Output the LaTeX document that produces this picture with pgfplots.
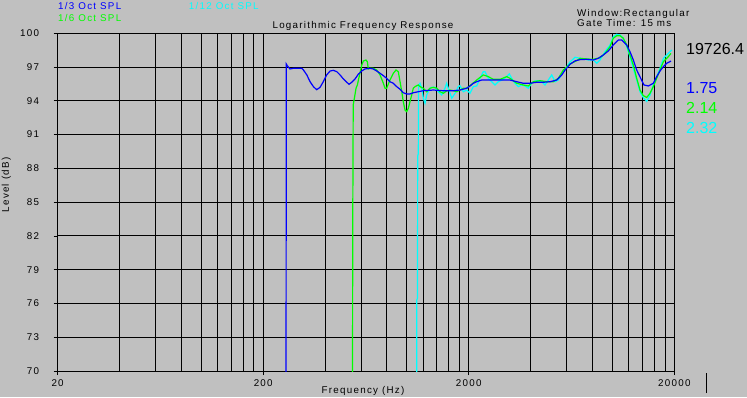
\documentclass[border=0pt]{standalone}
\usepackage{fontspec}
\usepackage{pgfplots}
\usepackage{pgfplotstable}
\pgfplotsset{compat=1.18}
\definecolor{bg}{HTML}{C0C0C0}
\definecolor{cblue}{HTML}{0000FF}
\definecolor{cgreen}{HTML}{00FF00}
\definecolor{ccyan}{HTML}{00FFFF}
\newfontfamily\uifont[LetterSpace=13]{Liberation Sans}
\newfontfamily\numfont{Liberation Sans}
\newcommand\ui{\uifont\fontsize{9.8}{11}\selectfont}
\newcommand\bignum{\numfont\fontsize{16}{18}\selectfont}

\pgfplotstableread{
f L
258 60
259 97.27
262 97.12
270 96.83
280 96.89
308 96.89
313 96.77
326 96.30
338 95.70
351 95.26
364 94.99
378 95.20
392 95.70
407 96.30
423 96.65
439 96.71
456 96.59
473 96.30
491 95.94
510 95.65
523 95.47
539 95.65
559 95.94
580 96.36
603 96.65
625 96.83
661 96.89
686 96.83
713 96.65
740 96.45
768 96.24
797 96.00
827 95.70
859 95.56
892 95.26
926 95.03
960 94.72
998 94.61
1035 94.61
1074 94.72
1136 94.81
1202 94.90
1344 94.96
1503 94.90
1681 94.90
1812 94.96
1954 95.12
2027 95.32
2104 95.56
2185 95.70
2311 95.85
2536 95.85
2838 95.85
3173 95.85
3420 95.70
3683 95.56
3970 95.56
4280 95.65
4607 95.65
4966 95.70
5353 95.85
5662 96.30
5876 96.74
6213 97.25
6570 97.55
6949 97.66
7490 97.69
8065 97.63
8528 97.78
9020 98.07
9538 98.43
10088 98.96
10668 99.40
11084 99.40
11722 98.96
12162 98.37
12620 97.63
13110 96.74
13712 96.00
14228 95.41
14930 95.32
15792 95.56
16404 96.15
17022 96.65
17662 97.03
18348 97.34
19038 97.48
19254 97.54
}\third

\pgfplotstableread{
f L
543 60
545 82.4
548 93.63
566 95.14
574 95.41
591 96.47
603 97.18
614 97.54
632 97.63
642 97.48
649 96.83
661 96.89
686 96.89
713 96.74
740 96.30
763 95.70
783 95.12
797 95.12
827 95.85
859 96.45
885 96.74
908 96.59
926 95.70
944 94.81
960 93.93
979 93.19
998 93.04
1016 93.34
1035 93.93
1055 94.52
1074 95.12
1095 95.26
1136 95.41
1158 95.26
1202 95.12
1248 94.81
1295 95.12
1344 95.20
1396 95.12
1449 94.81
1503 94.67
1561 94.88
1620 94.96
1681 94.90
1747 94.81
1812 94.96
1881 95.12
1954 95.12
2027 95.35
2185 95.85
2352 96.30
2488 96.15
2632 95.91
2838 95.91
3058 96.15
3173 96.00
3420 95.56
3683 95.41
3894 95.32
4118 95.70
4440 95.79
4786 95.70
5152 95.70
5450 96.00
5763 96.74
6213 97.27
6698 97.57
6949 97.78
7490 97.72
8065 97.69
8692 97.83
9194 98.22
9724 98.81
10088 99.56
10480 99.79
10876 99.79
11286 99.56
11722 98.96
12162 98.07
12620 97.18
13110 96.00
13606 94.96
14120 94.46
14670 94.30
15218 94.67
15792 95.26
16404 96.00
17022 96.74
17678 97.48
18678 97.92
19254 98.22
}\sixth

\pgfplotstableread{
f L
1115 60
1117 76.3
1126 76.5
1128 89.1
1136 89.3
1140 95.41
1158 95.56
1180 95.12
1202 94.23
1225 93.78
1248 94.52
1295 95.12
1320 95.20
1370 95.20
1421 94.81
1476 94.52
1532 95.12
1561 95.56
1590 95.12
1652 94.23
1714 94.67
1778 95.26
1812 95.35
1881 94.81
1954 94.96
2027 94.67
2104 95.26
2185 95.32
2268 96.00
2352 96.59
2398 96.59
2488 96.00
2586 95.70
2682 95.41
2784 95.70
2944 95.91
3058 96.15
3148 96.39
3234 96.00
3356 95.56
3482 95.26
3616 95.41
3752 95.32
3894 95.12
4046 95.56
4198 95.76
4356 95.79
4526 95.70
4696 95.41
4872 95.85
5062 96.30
5252 95.70
5450 95.85
5763 96.59
6213 97.45
6570 97.87
6949 97.78
7626 97.63
8065 97.63
8378 97.34
8692 97.63
9194 98.37
9724 98.96
10088 99.70
10480 99.91
10876 99.85
11286 99.56
11722 98.81
12162 97.92
12620 96.89
13110 95.85
13606 94.81
14120 94.28
14670 93.95
15218 94.50
15792 95.41
16404 96.15
17022 96.89
17678 97.78
19038 98.37
19406 98.52
}\twelfth

\begin{document}
\begin{tikzpicture}[x=1pt,y=1pt]
\path[use as bounding box, fill=bg] (0,0) rectangle (747,397);
\begin{axis}[
  at={(57.6pt,26pt)}, anchor=south west, scale only axis,
  width=616.8pt, height=337.7pt,
  xmode=log, xmin=20, xmax=20000, ymin=70, ymax=100,
  xtick={20,200,2000,20000}, xticklabels={20,200,2000,20000},
  minor xtick={40,60,80,100,120,140,160,180,400,600,800,1000,1200,1400,1600,1800,4000,6000,8000,10000,12000,14000,16000,18000},
  ytick={70,73,76,79,82,85,88,91,94,97,100},
  yticklabels={70,73,76,79,82,85,88,91,94,97,100},
  grid=both,
  major grid style={black, line width=1pt},
  minor grid style={black, line width=1pt},
  axis line style={black, line width=1pt},
  tick align=outside, major tick length=4pt, minor tick length=0pt,
  tick style={black, line width=0.8pt},
  tick pos=left,
  tick label style={font=\ui, text=black},
  yticklabel style={xshift=-11pt},
  xticklabel style={yshift=-1pt},
  clip=true,
]
\addplot[ccyan, line width=1.2pt, no marks] table[x=f,y=L] {\twelfth};
\addplot[cgreen, line width=1.2pt, no marks] table[x=f,y=L] {\sixth};
\addplot[cblue, line width=1.2pt, no marks] table[x=f,y=L] {\third};
\end{axis}
\node[anchor=west, inner sep=0, text=cblue, font=\ui] at (58,391) {1/3 Oct SPL};
\node[anchor=west, inner sep=0, text=cgreen, font=\ui] at (58,379.5) {1/6 Oct SPL};
\node[anchor=west, inner sep=0, text=ccyan, font=\ui] at (188.7,391) {1/12 Oct SPL};
\node[anchor=base, inner sep=0, font=\ui] at (363,368.3) {Logarithmic Frequency Response};
\node[anchor=base west, inner sep=0, font=\ui] at (577,380.3) {Window:Rectangular};
\node[anchor=base west, inner sep=0, font=\ui] at (577,370.3) {Gate Time: 15 ms};
\node[anchor=base west, inner sep=0, font=\bignum] at (686,342.7) {19726.4};
\node[anchor=base west, inner sep=0, font=\bignum, text=cblue] at (686,303) {1.75};
\node[anchor=base west, inner sep=0, font=\bignum, text=cgreen] at (686,283) {2.14};
\node[anchor=base west, inner sep=0, font=\bignum, text=ccyan] at (686,263) {2.32};
\node[rotate=90, inner sep=0, font=\ui] at (6.3,212) {Level (dB)};
\node[inner sep=0, font=\ui] at (363,6) {Frequency (Hz)};
\draw[black, line width=1pt] (706.5,4) -- (706.5,24);
\end{tikzpicture}
\end{document}
